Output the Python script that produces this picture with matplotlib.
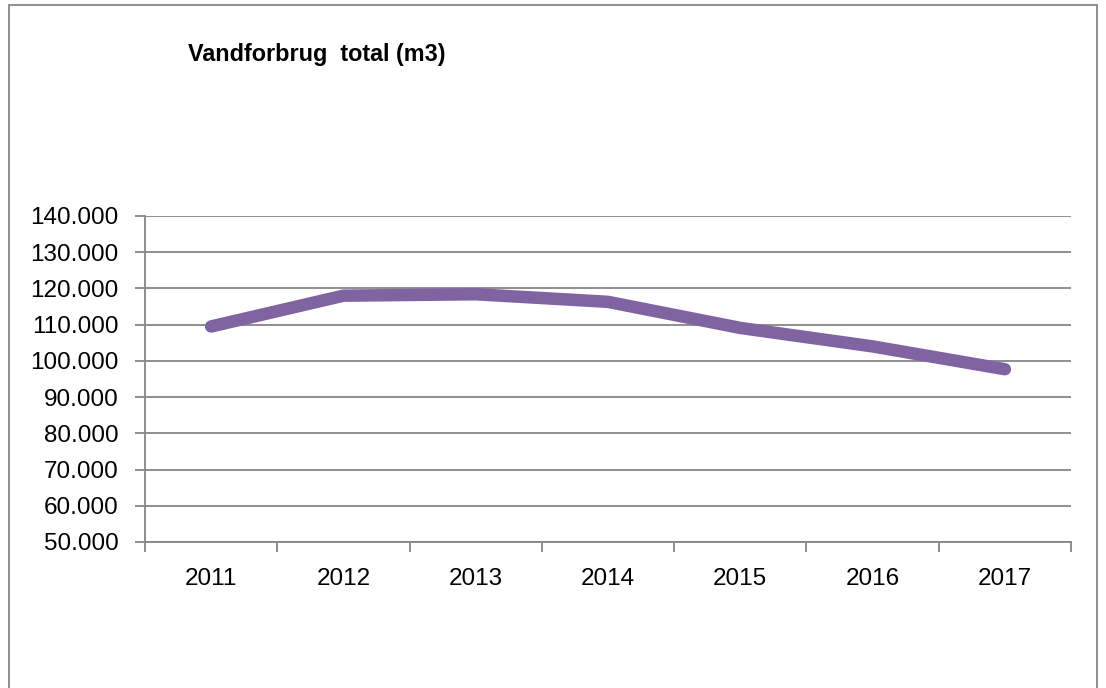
import numpy as np
import matplotlib.pyplot as plt
from matplotlib.patches import Rectangle
from matplotlib.ticker import FuncFormatter

aar = ['2011', '2012', '2013', '2014', '2015', '2016', '2017']
forbrug = [109500, 118000, 118400, 116300, 109100, 104000, 97700]

plt.rcParams['font.family'] = ['Liberation Sans', 'DejaVu Sans']

fig = plt.figure(figsize=(11.06, 6.88), dpi=100)
ax = fig.add_axes([145 / 1106, 1 - 542 / 688, (1071 - 145) / 1106, (542 - 216) / 688])

# ramme om hele diagrammet
fig.patches.append(Rectangle((9 / 1106, -0.01), (1097 - 9) / 1106, 1.01 - 5 / 688,
                             transform=fig.transFigure, fill=False,
                             edgecolor='#868686', linewidth=1.3))

x = np.arange(len(aar))
ax.plot(x, forbrug, color='#8064A2', linewidth=9, solid_capstyle='round',
        solid_joinstyle='round', zorder=3)

ax.set_xlim(-0.5, len(aar) - 0.5)
ax.set_ylim(50000, 140000)
ax.set_yticks(np.arange(50000, 140001, 10000))
ax.yaxis.set_major_formatter(FuncFormatter(lambda v, p: f'{int(v):,}'.replace(',', '.')))
ax.set_xticks(x)
ax.set_xticklabels(aar)
ax.set_xticks(np.arange(-0.5, len(aar)), minor=True)
ax.grid(axis='y', color='#868686', linewidth=1.3)
ax.set_axisbelow(True)

for s in ['top', 'right']:
    ax.spines[s].set_visible(False)
for s in ['left', 'bottom']:
    ax.spines[s].set_color('#868686')
    ax.spines[s].set_linewidth(1.3)

ax.tick_params(axis='x', which='major', length=0, pad=19, labelsize=17.5)
ax.tick_params(axis='x', which='minor', length=7, color='#868686', width=1.3)
ax.tick_params(axis='y', length=7, color='#868686', width=1.3, labelsize=17.5, pad=12)

fig.text(188 / 1106, 1 - 55 / 688, 'Vandforbrug  total (m3)', fontsize=16.8,
         fontweight='bold', va='center', ha='left')

fig.savefig('out.png', dpi=100)
